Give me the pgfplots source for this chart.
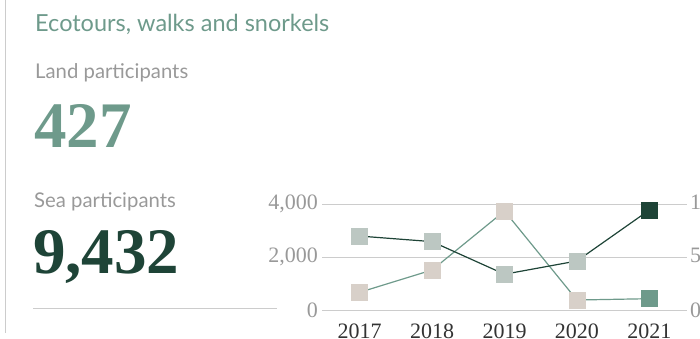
\documentclass[border=0pt]{standalone}
\usepackage{fontspec}
\setmainfont{Lato}
\newfontfamily\numfont{Liberation Serif}
\usepackage{pgfplots}
\pgfplotsset{compat=1.18}
\definecolor{darkg}{HTML}{1E4437}
\definecolor{lightg}{HTML}{6E9A8B}
\definecolor{graym}{HTML}{BCC7C2}
\definecolor{beige}{HTML}{D8D0C9}
\definecolor{txtgray}{HTML}{999999}
\definecolor{rule}{HTML}{CCCCCC}
\begin{document}
\begin{tikzpicture}[x=1pt,y=1pt]
\path[use as bounding box, clip] (0,0) rectangle (700,338);
\draw[rule, line width=1pt] (5,338) -- (5,5);
\draw[rule, line width=1pt] (33,30) -- (277,30);
\node[anchor=base west, inner sep=0pt, text=lightg, font=\fontsize{23.5}{23.5}\selectfont] at (35,306) {Ecotours, walks and snorkels};
\node[anchor=base west, inner sep=0pt, text=txtgray, font=\fontsize{20.3}{20.3}\selectfont] at (35,259) {Land participants};
\node[anchor=base west, inner sep=0pt, text=lightg, font=\numfont\bfseries\fontsize{65}{65}\selectfont] at (34,191) {427};
\node[anchor=base west, inner sep=0pt, text=txtgray, font=\fontsize{20.3}{20.3}\selectfont] at (34,131) {Sea participants};
\node[anchor=base west, inner sep=0pt, text=darkg, font=\numfont\bfseries\fontsize{65}{65}\selectfont] at (33,65) {9,432};
\begin{axis}[
  at={(322pt,28pt)}, anchor=south west,
  scale only axis, width=365pt, height=106pt,
  xmin=-0.52, xmax=4.52, ymin=0, ymax=4000,
  axis y line*=left, axis x line*=bottom,
  axis line style={draw=none},
  major tick length=0pt,
  ytick={0,2000,4000},
  xtick={0,1,2,3,4},
  xticklabels={2017,2018,2019,2020,2021},
  ymajorgrids, grid style={color=rule, line width=1pt},
  /pgf/number format/assume math mode=true,
  /pgf/number format/1000 sep={,},
  yticklabel style={font=\numfont\fontsize{22}{22}\selectfont, text=txtgray, inner xsep=0pt, xshift=-4pt},
  xticklabel style={font=\numfont\fontsize{22}{22}\selectfont, text=black!80, yshift=-10pt},
  clip=false,
]
\addplot[lightg, line width=1.2pt, mark=none] coordinates {(0,668)(1,1509)(2,3736)(3,377)(4,427)};
\addplot[only marks, mark=square*, mark size=8pt, color=beige] coordinates {(0,668)(1,1509)(2,3736)(3,377)};
\addplot[only marks, mark=square*, mark size=8pt, color=lightg] coordinates {(4,427)};
\end{axis}
\begin{axis}[
  at={(322pt,28pt)}, anchor=south west,
  scale only axis, width=365pt, height=106pt,
  xmin=-0.52, xmax=4.52, ymin=0, ymax=10000,
  axis y line*=right, axis x line=none,
  axis line style={draw=none},
  major tick length=0pt,
  ytick={0,5000,10000},
  /pgf/number format/assume math mode=true,
  /pgf/number format/1000 sep={,},
  scaled y ticks=false,
  yticklabel style={font=\numfont\fontsize{22}{22}\selectfont, text=txtgray, inner xsep=0pt, xshift=3pt},
  clip=false,
]
\addplot[darkg, line width=1.2pt, mark=none] coordinates {(0,6975)(1,6450)(2,3375)(3,4625)(4,9432)};
\addplot[only marks, mark=square*, mark size=8pt, color=graym] coordinates {(0,6975)(1,6450)(2,3375)(3,4625)};
\addplot[only marks, mark=square*, mark size=8pt, color=darkg] coordinates {(4,9432)};
\end{axis}
\end{tikzpicture}
\end{document}
